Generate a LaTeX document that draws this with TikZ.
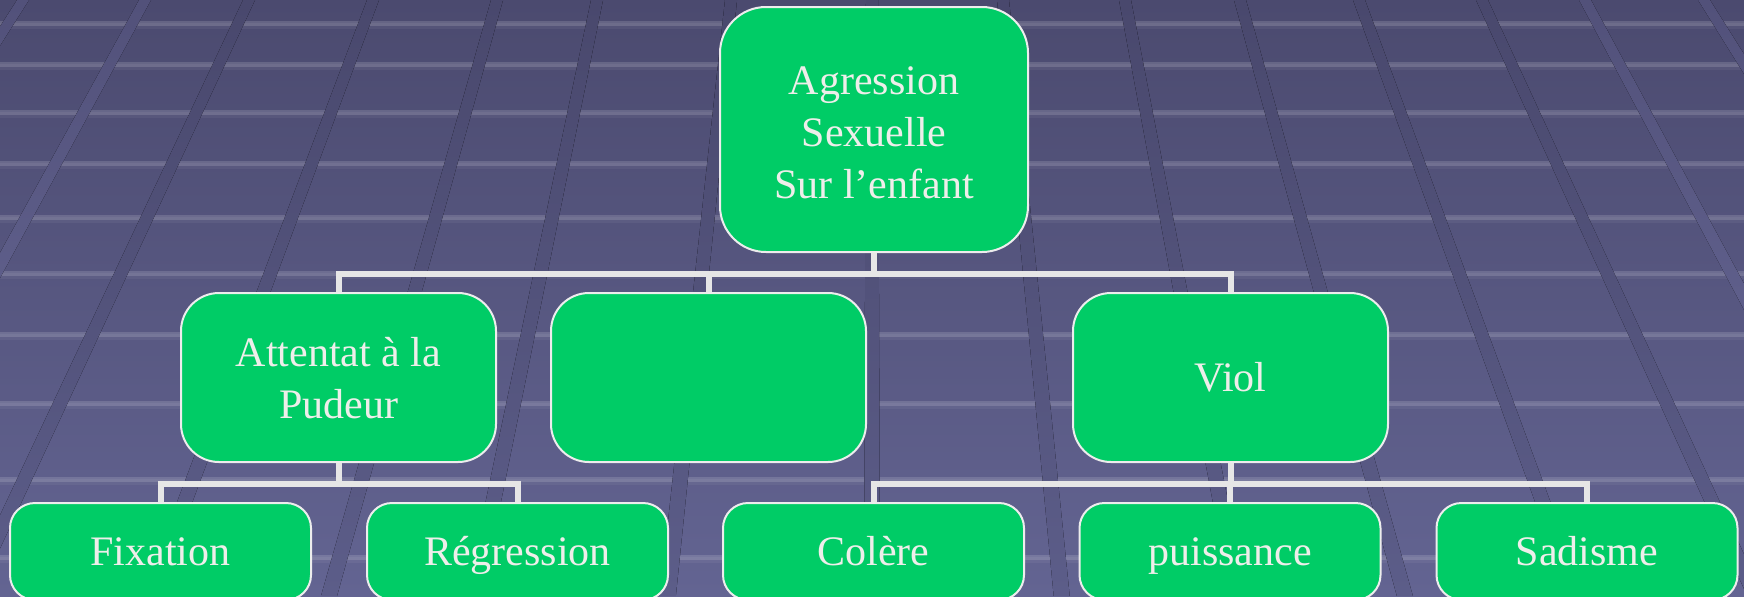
\documentclass[tikz,border=0pt]{standalone}
\usepackage{fontspec}
\setmainfont{Liberation Serif}
\definecolor{bgtop}{HTML}{4B4A6F}
\definecolor{bgbot}{HTML}{636492}
\definecolor{lntop}{HTML}{49486D}
\definecolor{lnbot}{HTML}{5C5D89}
\definecolor{lttop}{HTML}{52517A}
\definecolor{ltbot}{HTML}{6A6B9A}
\definecolor{boxgreen}{HTML}{00CC66}
\definecolor{boxedge}{HTML}{EDEDED}
\definecolor{conn}{HTML}{E6E6E6}
\definecolor{txt}{HTML}{EEEEEA}
\begin{document}
\begin{tikzpicture}[x=0.5pt,y=-0.5pt,
  box/.style={draw=boxedge, line width=1pt, fill=boxgreen, text=txt,
    font=\fontsize{21}{26}\selectfont, align=center, inner sep=0pt},
  rootbox/.style={box, minimum width=154pt, minimum height=122.5pt, rounded corners=23pt},
  midbox/.style={box, minimum width=157.5pt, minimum height=84.5pt, rounded corners=19pt},
  onelinetext/.style={text height=14.3pt, text depth=0pt},
  leafbox/.style={box, onelinetext, minimum width=150.5pt, minimum height=48.5pt, rounded corners=12.5pt},
  link/.style={draw=conn, line width=3pt},
  hband/.style={white, opacity=0.14, line width=2.5pt},
  hsoft/.style={white, opacity=0.05}]
\useasboundingbox (0,0) rectangle (1744,596);
\clip (0,0) rectangle (1744,596);
% background
\fill[top color=bgtop, bottom color=bgbot] (0,0) rectangle (1744,596);
\foreach \y in {23,64,112,163,217,273,334,403,479,557} {
  \fill[hsoft] (0,\y) rectangle (1744,\y+6);
  \draw[hband] (0,\y) -- (1744,\y);
}
\begin{scope}
  \clip \foreach \x in {249,373,497,597,731,872,1003,1125,1240,1359,1482} {
    ({\x-6},0) -- ({\x+6},0) -- ({\x+(\x-872)*0.448+8},596) -- ({\x+(\x-872)*0.448-8},596) -- cycle };
  \fill[top color=lntop, bottom color=lnbot] (0,0) rectangle (1744,596);
\end{scope}
\begin{scope}
  \clip \foreach \x in {23,145,1585,1704} {
    ({\x-6},0) -- ({\x+6},0) -- ({\x+(\x-872)*0.448+8},596) -- ({\x+(\x-872)*0.448-8},596) -- cycle };
  \fill[top color=lttop, bottom color=ltbot] (0,0) rectangle (1744,596);
\end{scope}
% nodes
\node[rootbox] (root) at (874,129.5) {\rule{0pt}{17.2pt}Agression\\Sexuelle\\Sur l’enfant};
\node[midbox] (att) at (338.5,377.5) {\rule{0pt}{15.5pt}Attentat à la\\Pudeur};
\node[midbox] (emp) at (708.5,377.5) {};
\node[midbox, onelinetext] (viol) at (1230.5,377.5) {Viol};
\node[leafbox] (fix) at (160.5,551.5) {Fixation};
\node[leafbox] (reg) at (517.5,551.5) {Régression};
\node[leafbox] (col) at (873.5,551.5) {Colère};
\node[leafbox] (pui) at (1230,551.5) {puissance};
\node[leafbox] (sad) at (1587,551.5) {Sadisme};
% connectors
\draw[link] (root.south) -- ++(0,21) -| (att.north);
\draw[link] (root.south) -- ++(0,21) -| (emp.north);
\draw[link] (root.south) -- ++(0,21) -| (viol.north);
\draw[link] (att.south) -- ++(0,21) -| (fix.north);
\draw[link] (att.south) -- ++(0,21) -| (reg.north);
\draw[link] (viol.south) -- ++(0,21) -| (col.north);
\draw[link] (viol.south) -- ++(0,21) -| (pui.north);
\draw[link] (viol.south) -- ++(0,21) -| (sad.north);
\end{tikzpicture}
\end{document}
